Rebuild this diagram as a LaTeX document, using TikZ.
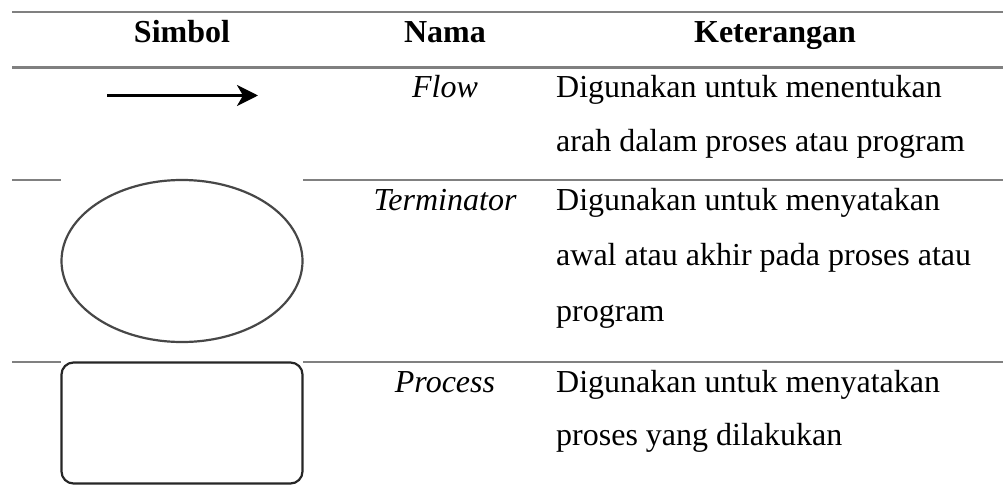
\documentclass[tikz,border=0pt]{standalone}
\usepackage{fontspec}
\setmainfont{Liberation Serif}
\usetikzlibrary{arrows.meta, shapes.geometric}
\definecolor{rulegray}{HTML}{808080}
\definecolor{shapeline}{HTML}{262626}
\tikzset{
  rulerow/.style={draw=rulegray, line width=2.2pt},
  cell/.style={inner sep=0pt, font=\fontsize{32}{38}\selectfont},
  headcell/.style={cell, anchor=base, font=\fontsize{32}{38}\selectfont\bfseries},
  namecell/.style={cell, anchor=base, font=\fontsize{32}{38}\selectfont\itshape},
  desccell/.style={cell, anchor=base west},
  symbolbox/.style={fill=white, draw=shapeline, line width=2.2pt},
  flowarrow/.style={line width=2.8pt, -{Stealth[length=21pt, width=21pt, inset=6pt]}},
}
\begin{document}
\begin{tikzpicture}[x=1pt, y=-1pt]
\useasboundingbox (0,0) rectangle (1003,497);

% horizontal rules of the table
\draw[rulerow] (12,12) -- (1003,12);
\draw[rulerow] (12,67.5) -- (1003,67.5);
\draw[rulerow] (12,180) -- (1003,180);
\draw[rulerow] (12,362) -- (1003,362);

% header
\node[headcell] (hsym)  at (182,43) {Simbol};
\node[headcell] (hname) at (445,43) {Nama};
\node[headcell] (hdesc) at (775,43) {Keterangan};

% row 1: flow
\coordinate (flowstart) at (107,95.5);
\coordinate (flowend) at (258,95.5);
\draw[flowarrow] (flowstart) -- (flowend);
\node[namecell] (nflow) at (445,98) {Flow};
\node[desccell] (dflowa) at (556,98) {Digunakan untuk menentukan};
\node[desccell] (dflowb) at (556,152) {arah dalam proses atau program};

% row 2: terminator
\fill[white] (61,176) rectangle (303,184);
\node[symbolbox, ellipse, minimum width=241pt, minimum height=162pt, inner sep=0pt, draw=shapeline!85] (term) at (182,261) {};
\node[namecell] (nterm) at (445,210) {Terminator};
\node[desccell] (dterma) at (556,210) {Digunakan untuk menyatakan};
\node[desccell] (dtermb) at (556,265) {awal atau akhir pada proses atau};
\node[desccell] (dtermc) at (556,321) {program};

% row 3: process
\fill[white] (61,358) rectangle (303,366);
\node[symbolbox, rectangle, rounded corners=12pt, minimum width=241pt, minimum height=121pt, inner sep=0pt] (proc) at (182,423) {};
\node[namecell] (nproc) at (445,392) {Process};
\node[desccell] (dproca) at (556,392) {Digunakan untuk menyatakan};
\node[desccell] (dprocb) at (556,445) {proses yang dilakukan};
\end{tikzpicture}
\end{document}
